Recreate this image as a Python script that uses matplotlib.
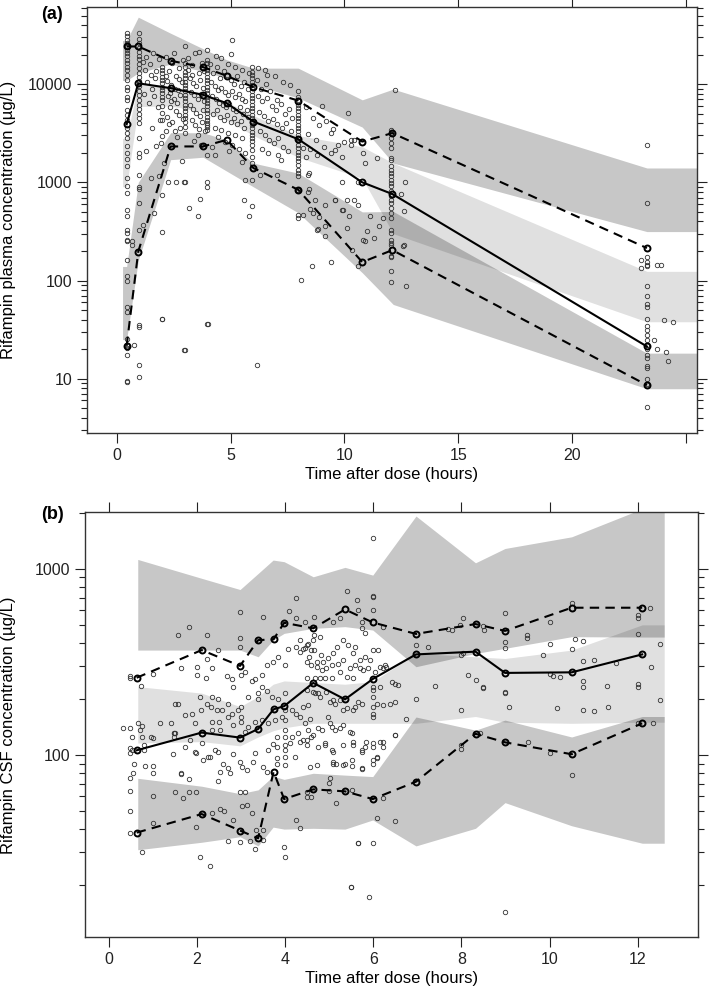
import matplotlib
matplotlib.use('Agg')
import matplotlib.pyplot as plt

plt.rcParams['font.family'] = ['Liberation Sans', 'DejaVu Sans']

# ---------------- panel (a): plasma ----------------
# observed percentiles (time, 5th, 50th, 95th)
a_pct_t = [0.44, 0.95, 2.37, 3.8, 4.83, 6.0, 7.97, 10.78, 12.1, 23.27]
a_p05 = [21.6, 197, 2320, 2320, 2710, 1400, 840, 154, 204, 8.6]
a_p50 = [3900, 10200, 9100, 7780, 6400, 4160, 2750, 1000, 760, 21.3]
a_p95 = [24200, 24200, 17300, 14900, 12150, 9320, 6800, 2600, 3170, 214]

# simulated confidence bands (edges of the binned x range included)
a_band_t = [0.26, 0.44, 0.95, 2.37, 3.8, 4.83, 6.0, 7.97, 10.78, 12.14, 23.27, 26.0]
a_lo_lo = [25, 25, 160, 1700, 1800, 1300, 900, 490, 120, 57, 7.9, 7.9]
a_lo_hi = [139, 139, 1000, 3200, 3200, 2700, 1570, 1240, 500, 505, 18.2, 18.2]
a_md_lo = [900, 900, 5900, 6000, 5200, 4300, 3000, 1800, 1100, 300, 38, 38]
a_md_hi = [2800, 2800, 10200, 9500, 8000, 6600, 4800, 3000, 2300, 1570, 124, 124]
a_hi_lo = [10900, 10900, 13000, 16000, 13500, 11500, 9800, 7250, 3650, 1570, 315, 315]
a_hi_hi = [27800, 27800, 48100, 33000, 22900, 17700, 14550, 14550, 6920, 8900, 1400, 1400]

# observations at nominal sampling times
a_obs_05h = [33000, 30600, 28300, 26200, 24200, 22400, 20700, 19200, 17700, 16400,
             15100, 14000, 12400, 11100, 9300, 8750, 7480, 6920, 5480, 4880, 4340,
             3570, 3170, 2820, 2320, 1980, 1720, 1450, 1100, 907, 776, 525, 449, 329,
             304, 260, 255, 162, 110, 98, 53.6, 48.3, 25.3, 22.1, 20.3, 17.5, 9.4, 9.2]
a_obs_1h = [33000, 29000, 26000, 23500, 21500, 19500, 18000, 16000, 14500, 13000,
            11800, 10800, 9600, 8600, 7700, 6900, 6200, 5600, 5000, 4500, 4000, 2800,
            2000, 1800, 1200, 900, 850, 614, 328, 35.4, 33.8, 13.9, 10.3]
a_obs_2h = [15100, 14000, 12900, 11950, 11060, 10200, 9460, 8750, 8100, 7480, 6920,
            5920, 5060, 4330, 2930, 747, 311, 40.5]
a_obs_3h = [16300, 14800, 13400, 12400, 11500, 10600, 9840, 9100, 8420, 7790, 7200,
            6660, 6160, 5700, 5270, 4870, 4500, 4160, 3700, 3170, 1000, 19.8]
a_obs_4h = [17700, 16300, 15100, 14000, 12900, 11950, 11060, 10200, 9460, 8750, 8100,
            7480, 6920, 6400, 5920, 5470, 5060, 4680, 4330, 4010, 3700, 3430, 3800,
            1900, 1000, 900, 36.2]
a_obs_6h = [15100, 13450, 12450, 11500, 10630, 9840, 9100, 8420, 7790, 7200, 6660,
            6160, 5700, 5270, 4870, 4500, 4160, 3850, 3560, 3290, 3050, 2820, 2610,
            2410, 2140, 1830, 1570, 1060, 572]
a_obs_8h = [8420, 7480, 6920, 6160, 5700, 5270, 4880, 4510, 4170, 3860, 3570, 3300,
            3050, 2820, 2610, 2410, 2230, 2060, 1910, 1760, 1630, 1510, 1340, 1240,
            1150, 839, 462, 437]
a_obs_12h = [3430, 3170, 2820, 2510, 2230, 1760, 1690, 1450, 1340, 1240, 1150, 1060,
             982, 907, 807, 718, 664, 614, 546, 486, 432, 329, 304, 260, 240, 230, 176,
             175, 124, 95.6]
a_obs_24h = [2400, 614, 175, 156, 145, 139, 87, 70, 57, 54, 41, 34.6, 31, 28, 24.9,
             22.1, 20, 17.5, 16.2, 13.5, 12.8, 9.9, 8.9, 5.2]
a_nominal = [(0.45, a_obs_05h), (0.98, a_obs_1h), (1.98, a_obs_2h), (3.0, a_obs_3h),
             (3.95, a_obs_4h), (5.93, a_obs_6h), (7.97, a_obs_8h), (12.05, a_obs_12h),
             (23.27, a_obs_24h)]

# observations away from the nominal times (time, conc)
a_obs_early = [(0.66, 250), (0.66, 230), (0.76, 22.1), (1.15, 17000), (1.25, 14000),
               (1.3, 19000), (1.45, 16000), (1.5, 12500), (1.6, 21000), (1.7, 11500),
               (1.35, 10500), (1.55, 9000), (1.75, 13500), (1.85, 18000), (1.2, 8000),
               (1.65, 7500), (1.4, 6500), (1.8, 5800), (1.9, 4300), (1.55, 3600),
               (1.74, 2320), (2.15, 3300), (1.95, 2500), (1.3, 2100), (1.85, 1150),
               (1.5, 1100), (2.1, 1570), (1.17, 369), (1.65, 492), (2.0, 40.5)]
a_obs_cloud = [(2.15, 19000), (2.3, 13500), (2.45, 16500), (2.6, 12000), (2.75, 14500),
               (2.2, 10800), (2.4, 9800), (2.55, 9000), (2.7, 8700), (2.85, 10500),
               (2.25, 7600), (2.5, 7100), (2.65, 6500), (2.8, 7800), (2.35, 5800),
               (2.6, 5300), (2.75, 4900), (2.2, 4600), (2.45, 4100), (2.9, 4400),
               (2.55, 3300), (2.3, 3900), (2.8, 3600), (2.65, 2900), (2.4, 6800),
               (2.15, 12000), (2.9, 17500), (2.52, 21000), (2.35, 8200), (2.75, 11300),
               (2.27, 1000), (2.6, 1000), (2.95, 1000), (2.86, 1640),
               (3.15, 18500), (3.3, 15500), (3.44, 20700), (3.6, 13000), (3.75, 16500),
               (3.2, 11500), (3.35, 10300), (3.5, 9500), (3.65, 11000), (3.8, 9200),
               (3.25, 8300), (3.4, 7700), (3.55, 7000), (3.7, 8000), (3.85, 6800),
               (3.2, 6200), (3.35, 5600), (3.5, 5100), (3.65, 4700), (3.8, 5500),
               (3.3, 4300), (3.45, 3800), (3.6, 3500), (3.75, 4100), (3.9, 3300),
               (3.55, 3000), (3.4, 2650), (3.7, 2400), (3.15, 14000), (3.85, 13500),
               (3.6, 21500), (3.3, 12500), (3.0, 24600), (3.95, 22400),
               (3.16, 546), (3.58, 456), (3.66, 675), (4.32, 1900),
               (4.1, 16000), (4.25, 13000), (4.4, 15000), (4.55, 11500), (4.7, 13500),
               (4.85, 12500), (5.0, 11000), (5.15, 10000), (5.3, 12000), (5.45, 9500),
               (5.6, 10500), (5.75, 9000), (4.15, 10500), (4.3, 9600), (4.45, 8800),
               (4.6, 9200), (4.75, 8300), (4.9, 7800), (5.05, 8500), (5.2, 7400),
               (5.35, 7900), (5.5, 7000), (5.65, 6800), (4.2, 7500), (4.35, 7000),
               (4.5, 6500), (4.65, 6200), (4.8, 5800), (4.95, 6300), (5.1, 5600),
               (5.25, 5300), (5.4, 5900), (5.55, 5000), (5.7, 5400), (4.25, 5000),
               (4.4, 5400), (4.55, 4600), (4.7, 4300), (4.85, 4800), (5.0, 4100),
               (5.15, 4500), (5.3, 3900), (5.45, 4200), (5.6, 3600), (5.75, 4600),
               (4.3, 3600), (4.6, 3400), (4.9, 3200), (5.2, 3000), (5.5, 2800),
               (4.45, 2900), (4.75, 2600), (5.05, 2400), (5.35, 2200), (5.65, 2000),
               (4.2, 2300), (4.95, 2100), (5.5, 1600), (4.6, 18500), (4.9, 16000),
               (5.2, 15000), (5.5, 14000), (5.8, 13000), (4.35, 19500), (5.08, 28200),
               (5.0, 20500), (5.63, 1060), (5.57, 653), (5.82, 449), (6.16, 13.9),
               (4.0, 36.2), (2.95, 19.8),
               (6.15, 11000), (6.35, 9000), (6.55, 10000), (6.75, 8500), (6.2, 7500),
               (6.4, 6800), (6.6, 7200), (6.8, 6000), (7.0, 5500), (7.2, 6300),
               (7.4, 5000), (6.25, 5200), (6.45, 4700), (6.65, 4200), (6.85, 4400),
               (7.05, 3900), (7.25, 3600), (7.45, 4000), (7.65, 3300), (6.3, 3300),
               (6.5, 3000), (6.7, 2700), (6.9, 2500), (7.1, 2800), (7.3, 2300),
               (7.5, 2100), (6.4, 2200), (6.65, 2000), (7.1, 1900), (7.2, 1700),
               (7.02, 1200), (6.3, 1200), (6.6, 12500), (6.95, 12000), (7.3, 10500),
               (7.6, 9800), (7.05, 6900), (7.55, 5600), (7.7, 4500), (6.2, 14500),
               (6.5, 13800)]
a_obs_late = [(8.2, 2230), (8.3, 1800), (8.4, 1200), (8.45, 1250), (8.3, 5800),
              (8.6, 4500), (8.9, 3800), (9.2, 4200), (9.5, 3500), (8.4, 3100),
              (8.75, 2700), (9.1, 2300), (9.4, 2000), (9.7, 2400), (8.5, 2200),
              (8.8, 1900), (9.4, 3170), (9.6, 2130), (10.0, 2600), (10.4, 2700),
              (10.17, 5070), (9.0, 6000), (9.6, 660), (10.1, 660), (10.4, 660),
              (10.6, 590), (10.2, 450), (8.5, 530), (8.9, 440), (8.8, 330),
              (8.7, 660), (9.9, 1830), (10.3, 2410), (10.3, 2710), (10.8, 1980),
              (10.9, 1570), (11.41, 1770), (9.9, 1000), (10.6, 1000), (9.9, 520),
              (10.1, 342), (11.1, 450), (11.7, 430), (11.5, 360), (11.0, 320),
              (11.3, 270), (10.9, 250), (12.66, 1000), (12.6, 505), (12.5, 760),
              (12.6, 230), (12.22, 8630), (12.57, 225), (12.7, 87), (10.32, 206),
              (10.58, 141), (10.83, 260), (8.07, 102), (8.56, 141), (8.6, 492),
              (8.82, 334), (9.14, 581), (9.14, 355), (9.14, 285), (9.41, 156),
              (9.58, 664), (9.95, 525), (8.4, 790), (8.45, 860), (8.2, 470),
              (23.0, 160), (23.0, 135), (23.7, 145), (24.0, 40), (24.4, 38),
              (23.9, 145), (23.7, 20), (24.1, 18.5), (23.6, 25), (24.2, 15)]

# ---------------- panel (b): CSF ----------------
b_pct_t = [0.635, 2.11, 2.98, 3.39, 3.74, 3.98, 4.64, 5.36, 5.99, 6.97, 8.32, 8.99, 10.5, 12.1]
b_p05 = [38.3, 48.2, 39.3, 35.7, 81.3, 58, 65.4, 63.8, 58, 71.9, 130, 117, 101, 148]
b_p50 = [106, 132, 124, 138, 176, 183, 244, 199, 256, 347, 359, 276, 278, 347]
b_p95 = [260, 366, 301, 414, 418, 513, 479, 605, 515, 447, 505, 464, 618, 618]

b_band_t = [0.66, 2.11, 2.98, 3.39, 3.73, 3.98, 4.64, 5.36, 5.99, 6.97, 8.32, 8.99, 10.5, 12.1, 12.6]
b_lo_lo = [31, 34, 36.4, 32.5, 41, 40, 40.4, 40, 44.8, 32.5, 40.4, 55.5, 41.7, 33.6, 33.6]
b_lo_hi = [75, 68, 62, 65, 77, 74, 79.8, 78, 76.6, 160, 136, 154, 125, 161, 161]
b_md_lo = [116, 118, 112, 125, 135, 140, 148, 148, 148, 148, 161, 150, 148, 150, 150]
b_md_hi = [233, 215, 182, 206, 240, 250, 245, 240, 248, 351, 337, 330, 366, 500, 500]
b_hi_lo = [366, 366, 366, 337, 414, 450, 479, 489, 469, 298, 351, 374, 432, 430, 430]
b_hi_hi = [1123, 889, 774, 944, 1114, 1092, 906, 1018, 925, 1920, 1077, 1286, 1485, 2100, 2100]

b_obs_early = [(0.48, 260), (0.49, 265), (1.0, 271), (0.73, 234), (1.65, 292), (2.0, 298),
               (2.34, 292), (2.24, 327), (2.49, 366), (2.0, 268), (2.68, 265), (2.79, 255),
               (2.83, 233), (2.2, 260), (3.0, 269), (3.09, 280), (3.24, 250), (3.32, 255),
               (3.47, 269), (3.58, 304), (3.73, 317), (3.85, 337), (4.0, 304), (4.07, 373),
               (4.26, 381), (4.41, 373), (4.53, 397), (4.6, 366), (4.66, 441), (1.58, 441),
               (2.24, 441), (1.83, 489), (2.98, 587), (3.49, 553), (4.08, 593), (4.24, 542),
               (4.24, 693), (2.98, 423), (2.98, 381), (3.47, 233), (3.58, 222), (3.7, 206),
               (3.85, 201), (4.0, 214), (2.71, 189), (3.01, 182), (3.17, 206), (3.39, 214),
               (3.39, 201), (1.5, 189), (1.58, 188), (2.07, 206), (2.34, 206), (2.49, 201),
               (2.22, 189), (2.32, 182), (2.45, 174), (1.73, 164), (1.88, 167), (2.1, 174),
               (2.56, 174), (2.71, 161), (2.79, 167), (2.94, 174), (3.01, 161), (1.16, 148),
               (1.41, 149), (1.49, 132), (0.67, 149), (0.75, 143), (0.71, 136), (0.33, 139),
               (0.48, 139), (1.96, 148), (2.34, 151), (2.5, 151), (2.34, 136), (2.52, 136),
               (2.83, 145), (3.01, 151), (3.17, 142), (3.32, 151), (3.47, 154), (3.1, 133),
               (3.62, 148), (3.77, 154), (3.92, 161), (4.0, 174), (4.15, 174), (4.26, 167),
               (4.41, 182), (4.53, 186), (4.68, 214), (1.5, 132), (1.49, 125), (0.97, 125),
               (0.81, 113), (0.81, 106), (0.52, 125), (0.52, 106), (4.0, 154), (4.0, 136),
               (4.0, 125), (4.15, 125), (4.3, 132), (4.41, 121), (3.62, 106), (3.73, 115)]
b_obs_low = [(0.48, 109), (0.48, 102), (0.58, 90), (0.82, 87), (1.0, 87), (1.0, 80),
             (1.0, 60), (1.0, 43), (0.48, 75), (0.48, 64), (0.48, 50), (0.48, 38),
             (0.75, 30), (1.47, 101), (1.5, 63.5), (1.65, 79), (1.68, 58.5), (1.83, 63.5),
             (1.99, 63.5), (1.99, 41.3), (2.07, 28.4), (2.3, 25.2), (2.34, 49), (2.52, 51.6),
             (2.61, 50), (2.7, 34.5), (2.83, 44.8), (2.98, 34.3), (3.21, 34.7), (3.32, 31.1),
             (2.98, 63.5), (3.09, 63.5), (3.02, 53.2), (3.13, 54), (3.26, 48.6), (3.34, 39.6),
             (3.51, 39.6), (3.51, 35), (3.98, 31.9), (4.0, 28.4), (4.26, 44.8), (4.34, 40.4),
             (4.49, 63.5), (4.49, 59.8), (4.6, 59.8), (5.0, 70.5), (5.0, 64.1), (5.15, 55),
             (5.65, 33.8), (5.5, 19.6), (0.75, 125), (1.0, 123), (1.49, 131), (1.84, 120),
             (1.99, 102), (2.11, 116), (2.15, 94), (2.26, 98), (2.41, 106), (2.49, 104),
             (2.6, 90), (2.71, 84.8), (2.83, 101), (2.98, 92), (3.02, 86.6), (3.13, 83),
             (3.28, 92), (3.32, 102), (3.51, 86.6), (3.58, 81.4), (3.81, 125), (3.81, 111),
             (3.81, 96), (3.81, 90), (4.0, 113), (4.0, 106), (4.0, 98), (4.0, 88.4),
             (4.11, 116), (4.23, 98), (4.34, 118), (4.49, 113), (4.6, 125), (4.75, 111),
             (4.9, 116), (5.06, 106), (5.08, 92), (5.15, 90), (5.36, 90), (5.51, 94),
             (5.55, 113), (2.52, 81.4), (2.49, 72.8), (2.75, 80.4), (1.65, 80), (1.83, 74),
             (0.56, 80), (1.73, 111), (1.96, 104), (2.3, 98)]
b_obs_mid = [(5.40, 762), (5.99, 708), (5.99, 600), (5.64, 679), (5.66, 600), (4.65, 553),
             (4.45, 520), (5.08, 520), (5.24, 542), (5.74, 520), (5.74, 479), (5.81, 454),
             (6.23, 489), (8.04, 542), (7.97, 499), (7.70, 473), (7.78, 469), (8.52, 469),
             (8.48, 492), (8.99, 581), (8.99, 406), (8.99, 374), (9.48, 441), (9.48, 423),
             (6.98, 389), (7.25, 381), (8.04, 351), (8.0, 344), (4.34, 414), (4.49, 389),
             (4.64, 414), (4.79, 432), (4.34, 359), (4.45, 374), (4.55, 337), (4.65, 366),
             (4.81, 344), (4.72, 317), (4.87, 317), (4.98, 330), (5.09, 351), (5.17, 381),
             (5.32, 414), (5.43, 389), (5.59, 381), (5.55, 351), (4.50, 317), (4.60, 304),
             (4.72, 298), (4.83, 286), (4.94, 292), (5.06, 304), (5.21, 310), (5.32, 324),
             (5.47, 292), (5.59, 304), (5.70, 324), (5.81, 337), (5.93, 324), (6.0, 366),
             (6.11, 366), (6.23, 292), (6.30, 298), (4.49, 258), (4.68, 258), (4.79, 258),
             (4.90, 258), (5.06, 258), (5.24, 280), (5.40, 263), (5.55, 258), (5.70, 292),
             (5.77, 286), (5.89, 292), (6.04, 280), (6.15, 298), (6.27, 304), (6.42, 248),
             (6.49, 242), (6.57, 237), (7.40, 235), (6.98, 201), (8.0, 174), (8.16, 269),
             (8.34, 253), (8.48, 233), (8.48, 228), (8.99, 219), (8.99, 214), (9.09, 182),
             (4.49, 223), (4.64, 219), (4.75, 214), (4.79, 206), (4.94, 219), (5.09, 197),
             (5.02, 193), (5.13, 189), (5.24, 197), (5.32, 174), (5.40, 178), (5.55, 174),
             (5.59, 182), (5.66, 193), (5.74, 189), (6.0, 233), (6.0, 223), (6.0, 206),
             (6.0, 182), (6.0, 167), (6.0, 161), (6.09, 189), (6.15, 233), (6.23, 185),
             (6.38, 189), (6.49, 193), (4.34, 161), (4.45, 148), (4.56, 157), (4.53, 136),
             (4.64, 128), (4.75, 139), (4.83, 136), (4.98, 161), (5.02, 148), (5.06, 142),
             (5.13, 136), (5.24, 139), (5.32, 145), (5.47, 133), (4.90, 113), (5.09, 104),
             (5.32, 113), (5.74, 104), (5.81, 111), (6.0, 111), (6.08, 98), (6.23, 111),
             (6.0, 94), (4.49, 120), (5.09, 90), (5.32, 88), (5.74, 84.8), (4.56, 86.6),
             (4.72, 88.4), (5.02, 75), (6.74, 157), (6.49, 128), (8.0, 113), (6.0, 1456),
             (6.0, 713)]
b_obs_late = [(10.5, 652), (10.0, 520), (12.0, 564), (12.0, 542), (12.27, 618), (12.0, 446),
              (12.5, 397), (10.58, 418), (10.76, 411), (10.0, 397), (10.5, 369), (10.75, 320),
              (11.0, 323), (11.5, 313), (9.84, 346), (10.08, 265), (10.23, 264), (10.0, 272),
              (10.75, 251), (10.75, 231), (11.3, 235), (12.0, 240), (12.0, 233), (12.3, 298),
              (12.5, 197), (10.16, 178), (10.75, 174), (11.0, 172), (11.33, 180), (12.0, 149),
              (12.34, 149), (5.51, 131), (5.55, 118), (5.75, 106), (5.84, 118), (6.0, 116),
              (6.16, 118), (6.23, 118), (5.51, 87), (5.75, 84), (6.0, 90), (6.08, 96),
              (5.51, 65), (6.23, 58.5), (6.08, 45.7), (6.5, 44.5), (5.66, 33.8), (5.99, 33.6),
              (5.49, 19.6), (5.91, 17.2), (8.0, 108), (8.42, 132), (9.52, 117), (10.0, 102),
              (10.5, 78), (9.0, 14.4), (6.5, 128)]


def draw_panel(ax, band_t, bands, pct_t, p05, p50, p95, nominal, scattered):
    dark = dict(color='black', alpha=0.22, lw=0, zorder=1)
    light = dict(color='black', alpha=0.12, lw=0, zorder=1)
    ax.fill_between(band_t, bands[0], bands[1], **dark)
    ax.fill_between(band_t, bands[2], bands[3], **light)
    ax.fill_between(band_t, bands[4], bands[5], **dark)

    pt = dict(ls='none', marker='o', ms=3.2, mfc='none', mec='#333333', mew=0.6, zorder=2)
    for t, conc in nominal:
        ax.plot([t] * len(conc), conc, **pt)
    for group in scattered:
        ax.plot([p[0] for p in group], [p[1] for p in group], **pt)

    mk = dict(marker='o', ms=4.3, mfc='none', mec='black', mew=1.4, color='black', lw=1.5, zorder=3)
    ax.plot(pct_t, p50, ls='-', **mk)
    ax.plot(pct_t, p05, ls=(0, (4.5, 3)), **mk)
    ax.plot(pct_t, p95, ls=(0, (4.5, 3)), **mk)

    ax.set_yscale('log')
    ax.tick_params(which='both', direction='out', top=True, right=True,
                   labeltop=False, labelright=False, colors='#222222', labelsize=11.5, width=0.8)
    ax.tick_params(which='major', length=7)
    ax.tick_params(which='minor', length=4)
    for s in ax.spines.values():
        s.set_color('#333333')
        s.set_linewidth(1.0)
    ax.set_xlabel('Time after dose (hours)', fontsize=12, labelpad=3)


fig = plt.figure(figsize=(7.09, 9.91), dpi=100)

ax1 = fig.add_axes([0.1227, 0.5631, 0.8604, 0.4298])
draw_panel(ax1, a_band_t, [a_lo_lo, a_lo_hi, a_md_lo, a_md_hi, a_hi_lo, a_hi_hi],
           a_pct_t, a_p05, a_p50, a_p95, a_nominal, [a_obs_early, a_obs_cloud, a_obs_late])
ax1.set_xlim(-1.3, 25.47)
ax1.set_ylim(2.8, 61000)
ax1.set_xticks([0, 5, 10, 15, 20, 25])
ax1.set_xticklabels(['0', '5', '10', '15', '20', ''])
ax1.set_yticks([10, 100, 1000, 10000])
ax1.set_yticklabels(['10', '100', '1000', '10000'])
ax1.set_yticks([m * d for d in [1, 10, 100, 1000, 10000] for m in range(2, 10)
                if 2.8 <= m * d <= 61000], minor=True)
ax1.yaxis.set_minor_formatter(plt.NullFormatter())
ax1.set_ylabel('Rifampin plasma concentration (µg/L)', fontsize=12)
ax1.yaxis.set_label_coords(-0.116, 0.5)

ax2 = fig.add_axes([0.1203, 0.0542, 0.8638, 0.4288])
draw_panel(ax2, b_band_t, [b_lo_lo, b_lo_hi, b_md_lo, b_md_hi, b_hi_lo, b_hi_hi],
           b_pct_t, b_p05, b_p50, b_p95, [], [b_obs_early, b_obs_low, b_obs_mid, b_obs_late])
ax2.set_xlim(-0.53, 13.36)
ax2.set_ylim(10.5, 2010)
ax2.set_xticks([0, 2, 4, 6, 8, 10, 12])
ax2.set_yticks([100, 1000])
ax2.set_yticklabels(['100', '1000'])
ax2.set_yticks([m * d for d in [10, 100, 1000] for m in range(2, 10)
                if 10.5 <= m * d <= 2010], minor=True)
ax2.yaxis.set_minor_formatter(plt.NullFormatter())
ax2.set_ylabel('Rifampin CSF concentration (µg/L)', fontsize=12)
ax2.yaxis.set_label_coords(-0.113, 0.5)

fig.text(0.074, 0.985, '(a)', fontsize=13, fontweight='bold', ha='center', va='center')
fig.text(0.074, 0.481, '(b)', fontsize=13, fontweight='bold', ha='center', va='center')

fig.savefig('out.png', dpi=100)
